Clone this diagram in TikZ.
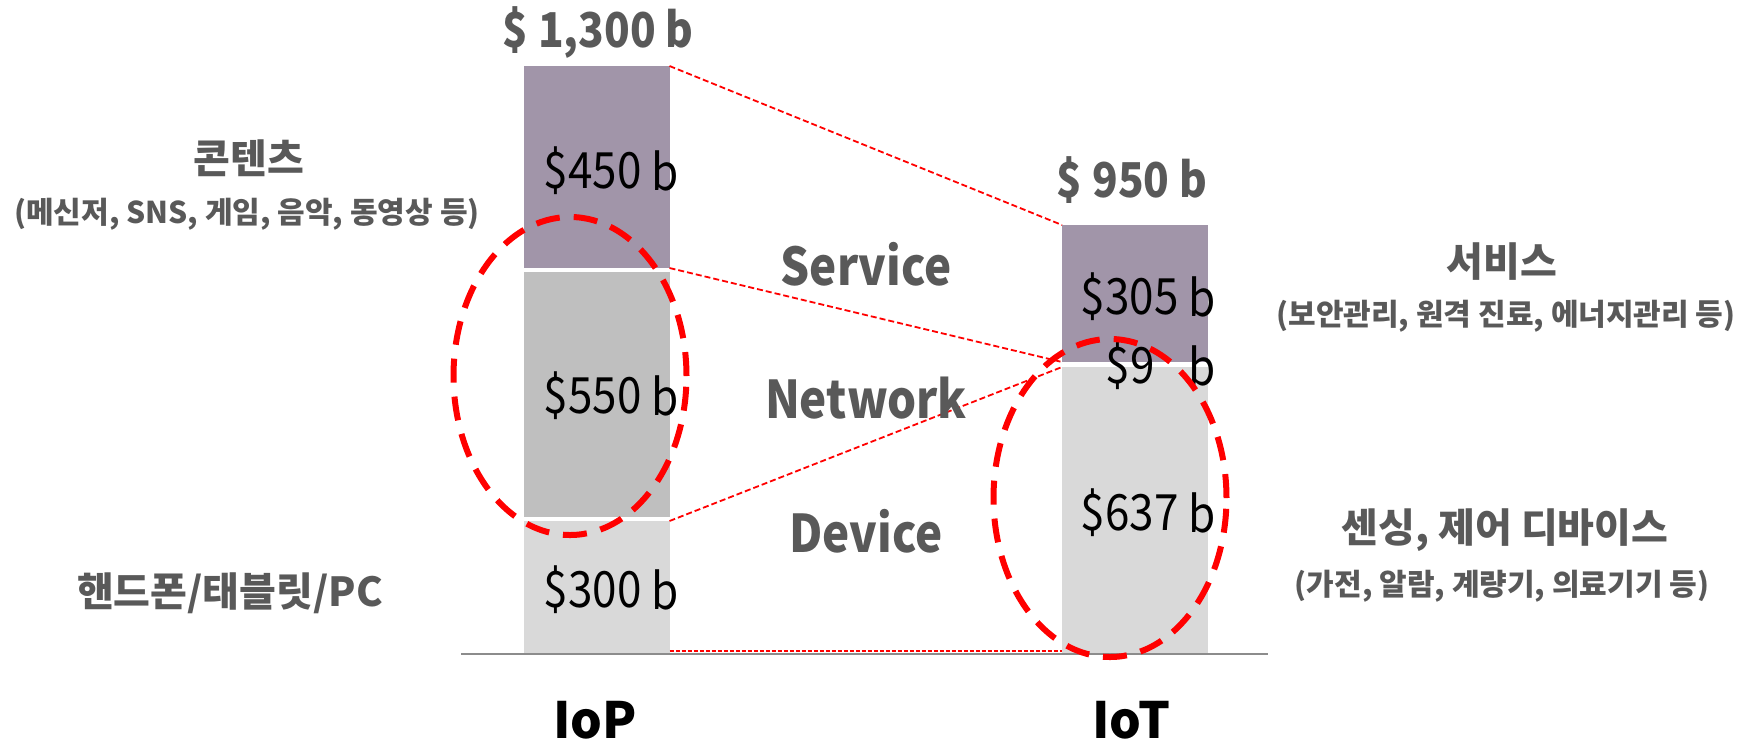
\documentclass[tikz,border=0pt]{standalone}
\usepackage{fontspec}
\setmainfont{Noto Sans CJK KR}
\newfontfamily\narrowfont{Noto Sans CJK KR}[FakeStretch=0.88]
\usetikzlibrary{shapes.geometric}

\definecolor{servcol}{HTML}{A195A9}
\definecolor{netcol}{HTML}{BFBFBF}
\definecolor{devcol}{HTML}{D9D9D9}
\definecolor{labelgray}{HTML}{595959}
\definecolor{axisgray}{HTML}{8C8C8C}

\newcommand{\amount}[1]{\$#1 \raisebox{-1.2pt}{b}}

\tikzset{
  bar/.style={rectangle, inner sep=0pt, outer sep=0pt, minimum width=73pt},
  link/.style={red, line width=0.9pt, dash pattern=on 3pt off 1.5pt},
  ring/.style={ellipse, draw=red, line width=3pt, dash pattern=on 12pt off 7pt,
    inner sep=0pt, minimum width=116.5pt, minimum height=159pt},
  amountlbl/.style={anchor=base east, inner sep=0pt, font=\narrowfont\fontsize{25}{30}\selectfont},
  total/.style={anchor=base, inner sep=0pt, text=labelgray, font=\narrowfont\bfseries\fontsize{24}{28}\selectfont},
  layer/.style={anchor=base, inner sep=0pt, text=labelgray, font=\narrowfont\bfseries\fontsize{26}{30}\selectfont},
  head/.style={inner sep=0pt, text=labelgray, font=\bfseries\fontsize{20}{24}\selectfont},
  sub/.style={inner sep=0pt, text=labelgray, font=\bfseries\fontsize{15}{18}\selectfont},
  market/.style={anchor=base, inner sep=0pt, font=\bfseries\fontsize{25}{30}\selectfont}
}

\begin{document}
\begin{tikzpicture}[x=0.5pt, y=-0.5pt] % IoP vs IoT market
  \useasboundingbox (0,0) rectangle (1763,741);

  % stacked bars
  \node[bar, fill=servcol, minimum height=101pt]   (iopServ) at (596.5,167) {};
  \node[bar, fill=netcol,  minimum height=122.5pt] (iopNet)  at (596.5,394.5) {};
  \node[bar, fill=devcol,  minimum height=66pt]    (iopDev)  at (596.5,587) {};
  \node[bar, fill=servcol, minimum height=68.5pt]  (iotServ) at (1135,293.5) {};
  \node[bar, fill=devcol,  minimum height=143pt]   (iotDev)  at (1135,510) {};

  \coordinate (axisL) at (461,654);
  \coordinate (axisR) at (1268,654);
  \draw[axisgray, line width=1.4pt] (axisL) -- (axisR);

  % red guide lines
  \draw[link] (iopServ.north east) -- (iotServ.north west);
  \draw[link] (iopServ.south east) -- (iotServ.south west);
  \draw[link] (iopDev.north east) -- (iotDev.north west);
  \draw[link, dash pattern=on 2pt off 1pt] ([yshift=1pt]iopDev.south east) -- ([yshift=1pt]iotDev.south west);

  % amounts
  \foreach \v/\y [count=\i] in {450/188, 550/413, 300/607}
    \node[amountlbl] (iopAmt\i) at (679,\y) {\amount{\v}};
  \foreach \v/\y [count=\i] in {305/314, 637/530}
    \node[amountlbl] (iotAmt\i) at (1216,\y) {\amount{\v}};
  \node[amountlbl] (iotAmtNet) at (1216,383) {\$9\hspace{12pt} \raisebox{-1.2pt}{b}};

  \node[total] (iopTotal) at (598,47) {\$ 1,300 b};
  \node[total] (iotTotal) at (1132,197) {\$ 950 b};

  \foreach \name/\y in {Service/285, Network/418, Device/552}
    \node[layer] (\name) at (866,\y) {\name};

  \node[ring] (iopRing) at (570,376) {};
  \node[ring] (iotRing) at (1110,498) {};

  % side labels
  \node[head] (contents)    at (249,158) {콘텐츠};
  \node[sub]  (contentsSub) at (247,214) {(메신저, SNS, 게임, 음악, 동영상 등)};
  \node[head] (phone)       at (230,593) {핸드폰/태블릿/PC};
  \node[head] (serviceKr)   at (1502,262) {서비스};
  \node[sub]  (serviceSub)  at (1506,316) {(보안관리, 원격 진료, 에너지관리 등)};
  \node[head] (sensing)     at (1505,530) {센싱, 제어 디바이스};
  \node[sub]  (sensingSub)  at (1502,586) {(가전, 알람, 계량기, 의료기기 등)};

  \node[market] (IoP) at (595,738) {IoP};
  \node[market] (IoT) at (1131,738) {IoT};
\end{tikzpicture}
\end{document}
